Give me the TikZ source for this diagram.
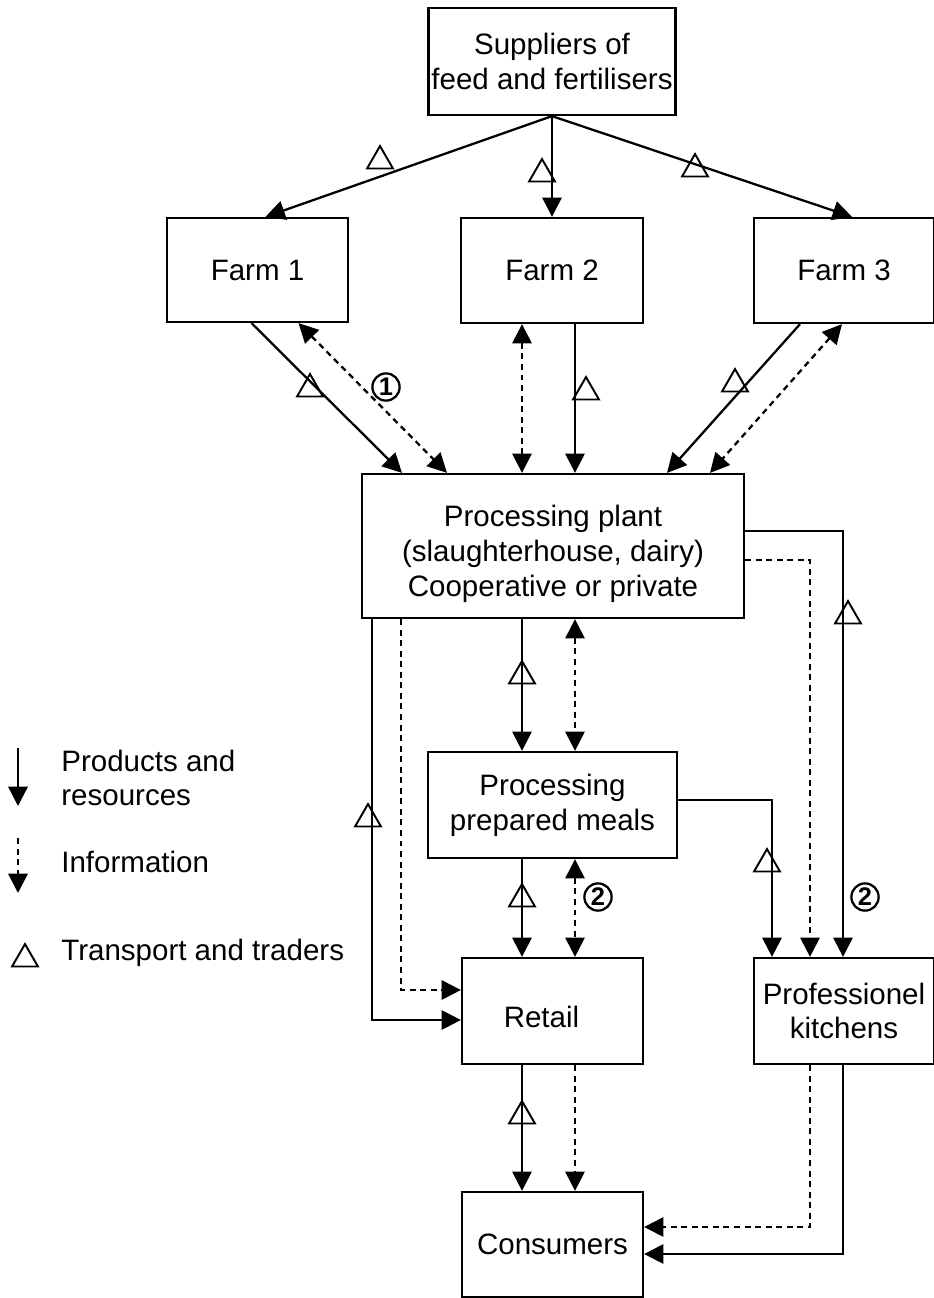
\documentclass[tikz,border=0pt]{standalone}
\usepackage{fontspec}
\setmainfont{Liberation Sans}
\usepackage{tikz}
\usetikzlibrary{arrows.meta,shapes.geometric,calc}

\tikzset{
  box/.style={draw, line width=1.3pt, align=center, inner sep=1pt},
  flow/.style={line width=1.3pt, -{Triangle[length=11pt,width=11pt]}},
  info/.style={flow, dash pattern=on 3.4pt off 2.6pt},
  infotwo/.style={info, {Triangle[length=11pt,width=11pt]}-{Triangle[length=11pt,width=11pt]}},
  transp/.style={regular polygon, regular polygon sides=3, draw, line width=1.1pt, inner sep=0pt, minimum size=17pt},
  numc/.style={circle, draw, line width=1.3pt, inner sep=0pt, minimum size=15.5pt, font=\fontsize{14.5}{14.5}\selectfont\bfseries},
}

\begin{document}
\begin{tikzpicture}[x=0.02cm, y=-0.02cm, every node/.style={font=\fontsize{16.8}{19.8}\selectfont}]
  \useasboundingbox (0,0) rectangle (933,1298);

  % Boxes
  \node[box, minimum width=4.94cm, minimum height=2.14cm] (sup) at (552,61.5) {Suppliers of\\feed and fertilisers};
  \node[box, minimum width=3.62cm, minimum height=2.08cm] (farm1) at (257.5,270) {Farm 1};
  \node[box, minimum width=3.64cm, minimum height=2.1cm] (farm2) at (552,270.5) {Farm 2};
  \node[box, minimum width=3.6cm, minimum height=2.1cm] (farm3) at (844,270.5) {Farm 3};
  \node[box, minimum width=7.64cm, minimum height=2.88cm] (plant) at (553,546) {};
  \node (plantlbl) at ($(plant)+(0,8)$) [align=center] {Processing plant\\(slaughterhouse, dairy)\\Cooperative or private};
  \node[box, minimum width=4.98cm, minimum height=2.12cm] (meals) at (552.5,805) {Processing\\prepared meals};
  \node[box, minimum width=3.62cm, minimum height=2.12cm] (retail) at (552.5,1011) {};
  \node (retaillbl) at ($(retail)+(-11,6)$) {Retail};
  \node[box, minimum width=3.6cm, minimum height=2.12cm] (kitch) at (844,1011) {Professionel\\kitchens};
  \node[box, minimum width=3.62cm, minimum height=2.1cm] (cons) at (552.5,1244.5) {Consumers};

  % Columns
  \coordinate (colL) at (522,0);
  \coordinate (colR) at (575,0);

  % Suppliers to farms
  \draw[flow] (sup.south) -- ($(farm1.north)+(8,0)$);
  \draw[flow] (sup.south) -- (sup.south |- farm2.north);
  \draw[flow] (sup.south) -- ($(farm3.north)+(8,0)$);

  % Farms to plant
  \draw[flow] ($(farm1.south)+(-6,0)$) -- ($(plant.north)+(-151,0)$);
  \draw[infotwo] ($(farm1.south)+(41,0)$) -- ($(plant.north)+(-106,0)$);
  \draw[infotwo] (farm2.south -| colL) -- (plant.north -| colL);
  \draw[flow] (farm2.south -| colR) -- (plant.north -| colR);
  \draw[flow] ($(farm3.south)+(-44,0)$) -- ($(plant.north)+(114,0)$);
  \draw[infotwo] ($(farm3.south)+(-2,0)$) -- ($(plant.north)+(157,0)$);

  % Plant and prepared meals
  \foreach \up/\down in {plant/meals, meals/retail}{
    \draw[flow] (\up.south -| colL) -- (\down.north -| colL);
    \draw[infotwo] (\up.south -| colR) -- (\down.north -| colR);
  }
  \draw[flow] (retail.south -| colL) -- (cons.north -| colL);
  \draw[info] (retail.south -| colR) -- (cons.north -| colR);

  % Plant to retail and kitchens
  \draw[flow] ($(plant.south west)+(11,0)$) |- ($(retail.west)+(0,9)$);
  \draw[info] ($(plant.south west)+(40,0)$) |- ($(retail.west)+(0,-21)$);
  \draw[flow] ($(plant.east)+(0,-15)$) -| ($(kitch.north)+(-1,0)$);
  \draw[info] ($(plant.east)+(0,14)$) -| ($(kitch.north)+(-34,0)$);
  \draw[flow] ($(meals.east)+(0,-5)$) -| ($(kitch.north)+(-72,0)$);

  % Kitchens to consumers
  \draw[info] ($(kitch.south)+(-34,0)$) |- ($(cons.east)+(0,-17.5)$);
  \draw[flow] ($(kitch.south)+(-1,0)$) |- ($(cons.east)+(0,9.5)$);

  % Transport
  \node[transp] (t1) at (380,161) {};
  \node[transp] (t2) at (542,174) {};
  \node[transp] (t3) at (695,169) {};
  \node[transp] (t4) at (310,389) {};
  \node[transp] (t5) at (586,392) {};
  \node[transp] (t6) at (735,384) {};
  \node[transp] (t7) at (522,676) {};
  \node[transp] (t8) at (368,819) {};
  \node[transp] (t9) at (848,616) {};
  \node[transp] (t10) at (767,864) {};
  \node[transp] (t11) at (522,899) {};
  \node[transp] (t12) at (522,1116) {};

  % Numbers
  \node[numc] (n1) at (386,387) {1};
  \node[numc] (n2) at (598,897) {2};
  \node[numc] (n3) at (865,897) {2};

  % Legend
  \coordinate (lgA) at (18,748);
  \coordinate (lgB) at (18,806);
  \coordinate (lgC) at (18,838);
  \coordinate (lgD) at (18,893);
  \draw[flow] (lgA) -- (lgB);
  \draw[info] (lgC) -- (lgD);
  \node[transp] (lgT) at (25,959) {};
  \node[anchor=west, align=left, inner sep=0pt] (lgprod) at (61,778) {Products and\\resources};
  \node[anchor=west, inner sep=0pt] (lginfo) at (61,862) {Information};
  \node[anchor=west, inner sep=0pt] (lgtrans) at (61,953) {Transport and traders};
\end{tikzpicture}
\end{document}
